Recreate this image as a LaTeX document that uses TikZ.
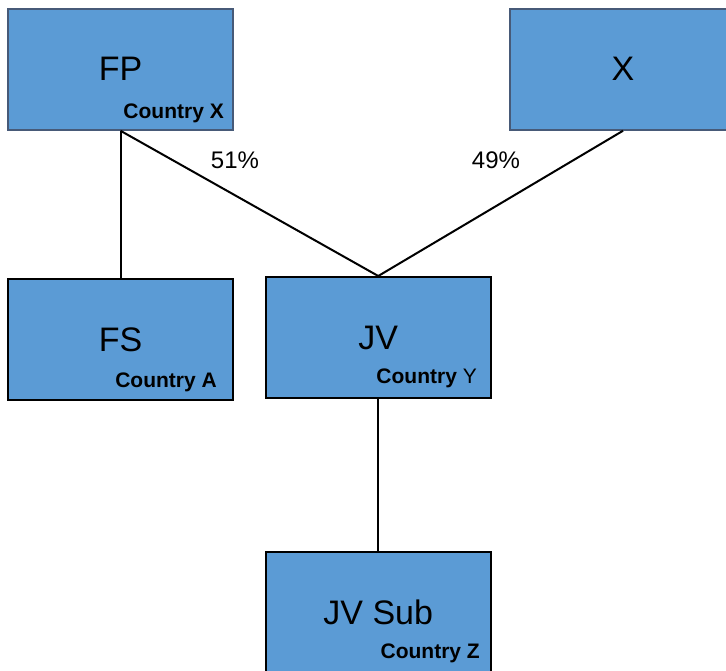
\documentclass[tikz,border=0pt]{standalone}
\usepackage{fontspec}
\setmainfont{Liberation Sans}
\definecolor{boxfill}{HTML}{5B9BD5}
\definecolor{boxedge}{HTML}{475A78}
\begin{document}
\begin{tikzpicture}[x=1pt,y=-1pt,
  box/.style={draw=black, line width=2pt, fill=boxfill, minimum width=225pt, minimum height=121pt, inner sep=0pt, font=\fontsize{34}{36}\selectfont},
  topbox/.style={box, draw=boxedge},
  country/.style={anchor=base east, inner sep=0pt, font=\fontsize{21}{23}\selectfont\bfseries},
  pct/.style={inner sep=0pt, font=\fontsize{24}{26}\selectfont},
  link/.style={line width=2pt, draw=black}]
\useasboundingbox (0,0) rectangle (726,670);
\clip (0,0) rectangle (726,670);
\node[topbox] (fp) at (120.5,69.25) {FP};
\node[topbox, minimum width=226pt] (x) at (623,69.25) {X};
\node[box] (fs) at (120.5,339.5) {FS};
\node[box, minimum width=224.5pt] (jv) at (378.25,337.5) {JV};
\node[box, minimum width=224.5pt] (sub) at (378.25,612) {JV Sub};
\draw[link] (fp.south) -- (fs.north);
\draw[link] (fp.south) -- (jv.north);
\draw[link] (x.south) -- (jv.north);
\draw[link] (jv.south) -- (sub.north);
\node[country] (fpc) at (224,118) {Country X};
\node[country] (fsc) at (217,387) {Country A};
\node[country] (jvc) at (477,383) {Country \mdseries Y};
\node[country] (subc) at (480,658) {Country Z};
\node[pct] (p51) at (235,160) {51\%};
\node[pct] (p49) at (496,160) {49\%};
\end{tikzpicture}
\end{document}
